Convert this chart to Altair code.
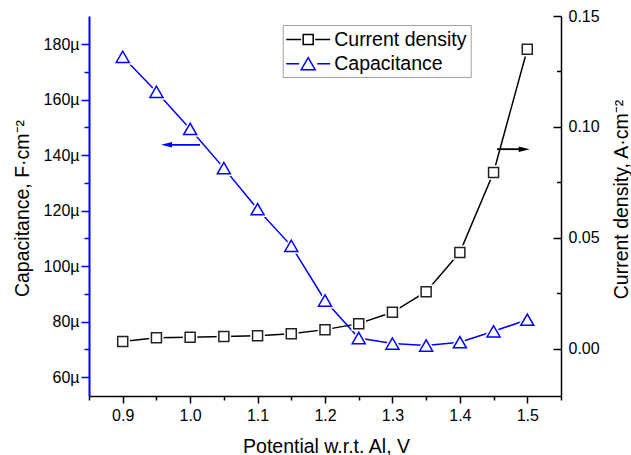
import altair as alt
import pandas as pd

# ---------------- data ----------------
potential = [0.9, 0.95, 1.0, 1.05, 1.1, 1.15, 1.2, 1.25, 1.3, 1.35, 1.4, 1.45, 1.5]
capacitance_u = [175.4, 162.8, 149.4, 135.3, 120.5, 107.3, 87.6, 74.1, 72.1, 71.4, 72.6, 76.5, 80.7]
current_density = [0.0033, 0.0050, 0.0053, 0.0056, 0.0060, 0.0068, 0.0087, 0.0114,
                   0.0165, 0.0258, 0.0435, 0.0795, 0.1350]
series_names = ["Current density", "Capacitance"]

x_ticks = [0.85, 0.9, 0.95, 1.0, 1.05, 1.1, 1.15, 1.2, 1.25, 1.3, 1.35, 1.4, 1.45, 1.5, 1.55]
cap_ticks = [60, 70, 80, 90, 100, 110, 120, 130, 140, 150, 160, 170, 180]
cur_ticks = [0.0, 0.025, 0.05, 0.075, 0.1, 0.125, 0.15]

# arrow annotations (data coordinates)
cap_arrow_from = [1.0147]
cap_arrow_to = [0.965]
cap_arrow_level = [143.7]
cur_arrow_from = [1.455]
cur_arrow_to = [1.4955]
cur_arrow_level = [0.090]

# ---------------- styles ----------------
FONT = "Liberation Sans"
BLUE = "#0000ff"
BLACK = "#000000"
# custom symbol paths (unit = sqrt(size)/2 px)
SQ_LEG = "M-2.146,0H-0.683M0.683,0H2.146M-0.488,-0.488H0.488V0.488H-0.488Z"
TRI_LEG = "M-2.146,0H-0.878M0.878,0H2.146M0,-0.585L0.683,0.585H-0.683Z"
HEAD_LEFT = "M-1,0L1,-0.5L1,0.5Z"
HEAD_RIGHT = "M1,0L-1,-0.5L-1,0.5Z"

cap_df = pd.DataFrame({"x": potential, "cap": capacitance_u})
cur_df = pd.DataFrame({"x": potential, "cur": current_density})
cap_arrow_df = pd.DataFrame({"x": cap_arrow_from, "x2": cap_arrow_to, "cap": cap_arrow_level})
cur_arrow_df = pd.DataFrame({"x": cur_arrow_from, "x2": cur_arrow_to, "cur": cur_arrow_level})
legend_df = pd.DataFrame({"series": series_names})

X_MAJ = "round(datum.value*100) % 10 === 0"
CAP_MAJ = "datum.value % 20 === 0"
CUR_MAJ = "round(datum.value*1000) % 50 === 0"

common_axis = dict(grid=False, labelFont=FONT, labelFontSize=16, labelColor="black",
                   titleFont=FONT, titleFontSize=19.5, titleFontWeight="normal",
                   titleColor="black", labelFlush=False, labelOverlap=False)

x_axis = alt.Axis(orient="bottom", values=x_ticks, title="Potential w.r.t. Al, V",
                  labelExpr=f"{X_MAJ} ? format(datum.value, '.1f') : ''",
                  tickSize={"condition": {"test": X_MAJ, "value": 7}, "value": 4},
                  labelPadding=4, domainColor=BLACK, domainWidth=1.5,
                  tickColor=BLACK, tickWidth=1.5,
                  titleBaseline="alphabetic", titleY=56, titleX=237, **common_axis)

cap_axis = alt.Axis(orient="left", values=cap_ticks, title="Capacitance, F·cm⁻²",
                    labelExpr=f"{CAP_MAJ} ? datum.value + 'µ' : ''",
                    tickSize={"condition": {"test": CAP_MAJ, "value": 8}, "value": 5},
                    labelPadding=2, domainColor=BLUE, domainWidth=2,
                    tickColor=BLUE, tickWidth=1.5,
                    titleAngle=270, titleBaseline="alphabetic", titleX=-61, titleY=192,
                    **common_axis)

cur_axis = alt.Axis(orient="right", values=cur_ticks, title="Current density, A·cm⁻²",
                    labelExpr=f"{CUR_MAJ} ? format(datum.value, '.2f') : ''",
                    tickSize={"condition": {"test": CUR_MAJ, "value": -8}, "value": -4.5},
                    labelPadding=15, domainColor=BLACK, domainWidth=1.5,
                    tickColor=BLACK, tickWidth=1.5,
                    titleAngle=270, titleBaseline="alphabetic", titleX=66, titleY=183,
                    **common_axis)

x_scale = alt.Scale(domain=[0.85, 1.55], nice=False, zero=False)
cap_scale = alt.Scale(domain=[53.2, 190.1], nice=False, zero=False)
cur_scale = alt.Scale(domain=[-0.0212, 0.15], nice=False, zero=False)

xe = alt.X("x:Q", scale=x_scale, axis=x_axis)
xe2 = alt.X("x2:Q", scale=x_scale, axis=x_axis)
ye_cap = alt.Y("cap:Q", scale=cap_scale, axis=cap_axis)
ye_cur = alt.Y("cur:Q", scale=cur_scale, axis=cur_axis)

# ---------------- capacitance (left axis) ----------------
cap_line = alt.Chart(cap_df).mark_line(color=BLUE, strokeWidth=1.5).encode(x=xe, y=ye_cap)
cap_halo = alt.Chart(cap_df).mark_point(shape="triangle-up", size=170, filled=True, fill="white",
                                        stroke="white", strokeWidth=4.5, opacity=1).encode(x=xe, y=ye_cap)
cap_pts = alt.Chart(cap_df).mark_point(shape="triangle-up", size=170, filled=True, fill="white",
                                       stroke=BLUE, strokeWidth=1.5, opacity=1).encode(x=xe, y=ye_cap)
cap_arrow = alt.Chart(cap_arrow_df).mark_rule(color=BLUE, strokeWidth=1.8).encode(
    x=xe, x2="x2:Q", y=ye_cap)
cap_head = alt.Chart(cap_arrow_df).mark_point(shape=HEAD_LEFT, size=121, filled=True, color=BLUE,
                                              opacity=1).encode(x=xe2, y=ye_cap)

leg = alt.Legend(title=None, orient="none", legendX=193.7, legendY=9, direction="vertical",
                 symbolSize=420, symbolStrokeWidth=1.5, symbolOpacity=1, symbolOffset=11,
                 labelFont=FONT, labelFontSize=19.5, labelColor="black", labelOffset=15,
                 padding=3.5, rowPadding=3.2, strokeColor="#a0a0a0", fillColor="white",
                 cornerRadius=0, labelLimit=300)
legend_layer = alt.Chart(legend_df).mark_point(opacity=0, filled=False, strokeWidth=1.5).encode(
    color=alt.Color("series:N", scale=alt.Scale(domain=series_names, range=[BLACK, BLUE]), legend=leg),
    shape=alt.Shape("series:N", scale=alt.Scale(domain=series_names, range=[SQ_LEG, TRI_LEG]), legend=leg),
)

# ---------------- current density (right axis) ----------------
cur_line = alt.Chart(cur_df).mark_line(color=BLACK, strokeWidth=1.5).encode(x=xe, y=ye_cur)
cur_halo = alt.Chart(cur_df).mark_point(shape="square", size=100, filled=True, fill="white",
                                        stroke="white", strokeWidth=4.5, opacity=1).encode(x=xe, y=ye_cur)
cur_pts = alt.Chart(cur_df).mark_point(shape="square", size=100, filled=True, fill="white",
                                       stroke="#222222", strokeWidth=1.5, opacity=1).encode(x=xe, y=ye_cur)
cur_arrow = alt.Chart(cur_arrow_df).mark_rule(color=BLACK, strokeWidth=1.8).encode(
    x=xe, x2="x2:Q", y=ye_cur)
cur_head = alt.Chart(cur_arrow_df).mark_point(shape=HEAD_RIGHT, size=121, filled=True, color=BLACK,
                                              opacity=1).encode(x=xe2, y=ye_cur)

left = alt.layer(cap_line, cap_halo, cap_pts, cap_arrow, cap_head, legend_layer)
right = alt.layer(cur_line, cur_halo, cur_pts, cur_arrow, cur_head)

chart = alt.layer(left, right).resolve_scale(y="independent").properties(
    width=472, height=380,
    autosize=alt.AutoSizeParams(type="none"),
    padding={"left": 89, "top": 16, "right": 70, "bottom": 59},
    background="white",
).configure_view(stroke=None).configure_axis(grid=False)

chart.save("out.html", embed_options={"renderer": "svg", "actions": False})
